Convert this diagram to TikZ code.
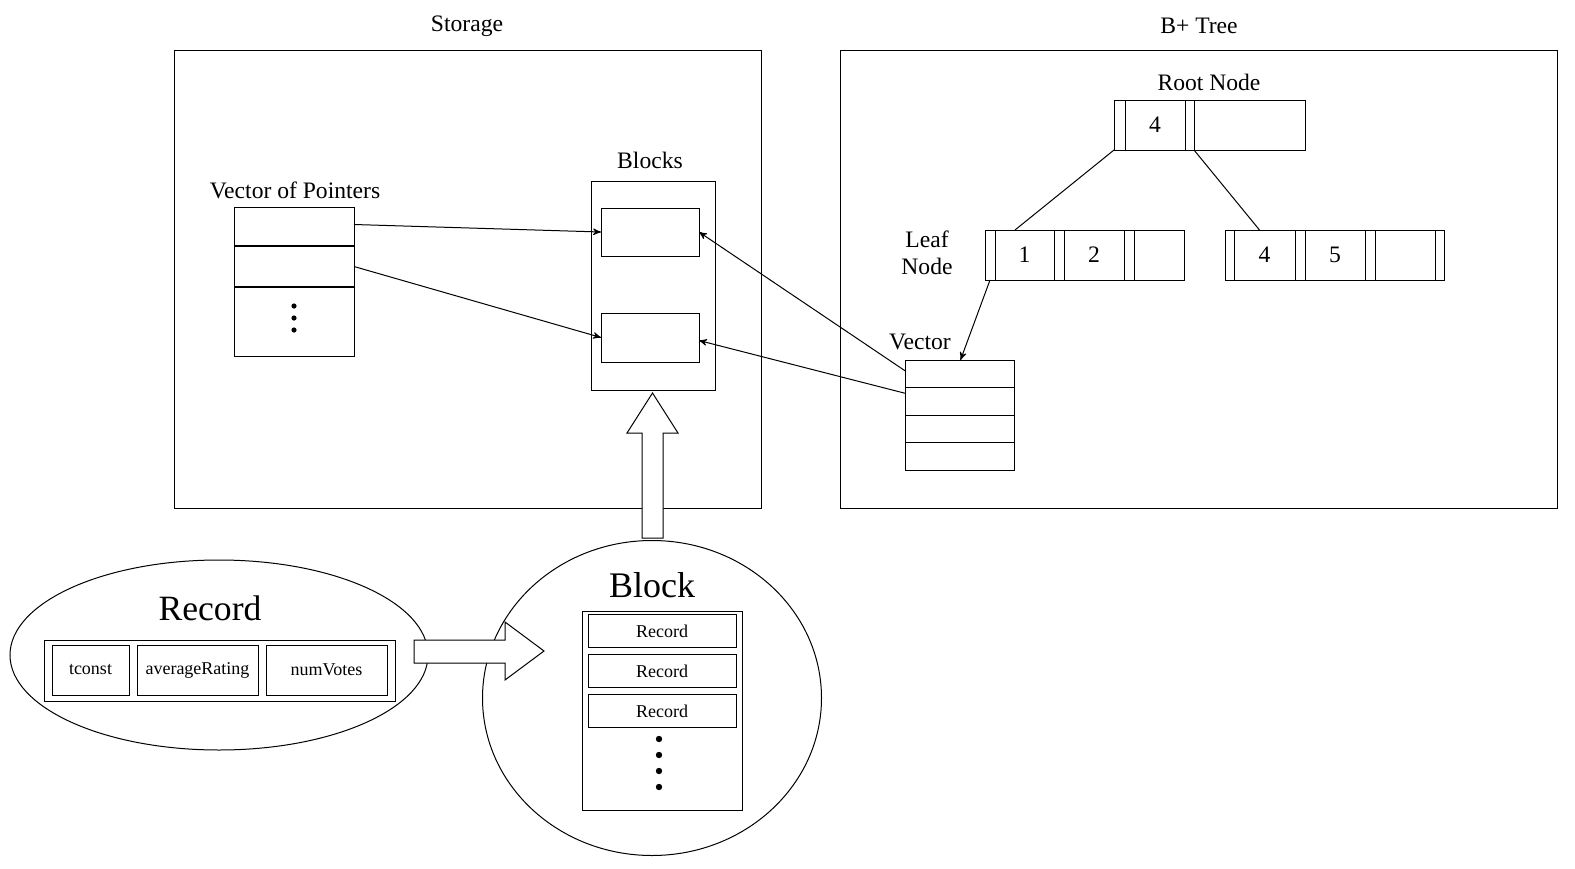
\documentclass[tikz,border=0pt]{standalone}
\usepackage{fontspec}
\setmainfont{Liberation Serif}
\usepackage{tikz}
\usetikzlibrary{shapes}
\usetikzlibrary{arrows}
\usetikzlibrary{positioning}
\tikzset{
	frame/.style={draw,rectangle,inner sep=0pt,outer sep=0pt},
	cell/.style={frame,minimum height=25pt,font=\fontsize{11.8}{14}\selectfont},
	ptr cell/.style={cell,minimum width=5pt},
	key cell/.style={cell,minimum width=30pt},
	small cell/.style={frame,font=\fontsize{9}{11}\selectfont},
	lbl/.style={inner sep=0pt,font=\fontsize{11.8}{13.5}\selectfont},
	big lbl/.style={inner sep=0pt,font=\fontsize{17.8}{20}\selectfont},
	block arrow/.style={draw,fill=white,line join=miter}
}

\begin{document}
\begin{tikzpicture}[x=0.5pt,y=-0.5pt,line width=0.5pt,>=stealth']
\useasboundingbox (0,0) rectangle (1575,868);

% Storage
\node[frame,minimum width=293.5pt,minimum height=229pt] (storage) at (467.5,279) {};
\node[lbl] (storagetitle) at (467,26) {Storage};

\node[lbl] (voptitle) at (295,190) {Vector of Pointers};
\node[frame,minimum width=60pt,minimum height=19.5pt] (p1) at (294,226.5) {};
\node[frame,minimum width=60pt,minimum height=20.5pt,below=0pt of p1] (p2) {};
\node[frame,minimum width=60pt,minimum height=34.5pt,below=0pt of p2] (p3) {};
\draw[line width=1.1pt] (p1.south west) -- (p1.south east);
\draw[line width=1.1pt] (p2.south west) -- (p2.south east);
\foreach \y in {306,318,330}
	\fill (294,\y) circle (1.3pt);

\node[lbl] (blockstitle) at (650,160) {Blocks};
\node[frame,minimum width=62pt,minimum height=104.5pt] (blocks) at (653,285.5) {};
\node[frame,minimum width=49pt,minimum height=24pt] (b1) at (650,232) {};
\node[frame,minimum width=49pt,minimum height=24.5pt] (b2) at (650,337.5) {};

\draw[->] ([yshift=1pt]p1.east) -- (b1.west);
\draw[->] (p2.east) -- (b2.west);

% B+ Tree
\node[frame,minimum width=358.5pt,minimum height=229pt] (tree) at (1198.5,279) {};
\node[lbl] (treetitle) at (1199,26) {B+ Tree};

\node[lbl] (roottitle) at (1209,82) {Root Node};
\node[ptr cell,minimum width=5.5pt] (r0) at (1119.5,125) {};
\node[key cell,right=0pt of r0] (r1) {4};
\node[ptr cell,minimum width=4.5pt,right=0pt of r1] (r2) {};
\node[cell,minimum width=55.5pt,right=0pt of r2] (r3) {};

\node[lbl,align=center] (leaftitle) at (927,253) {Leaf\\Node};
\node[ptr cell] (l0) at (990,255) {};
\node[key cell,minimum width=29.5pt,right=0pt of l0] (l1) {1};
\node[ptr cell,right=0pt of l1] (l2) {};
\node[key cell,right=0pt of l2] (l3) {2};
\node[ptr cell,right=0pt of l3] (l4) {};
\node[cell,minimum width=25pt,right=0pt of l4] (l5) {};

\node[ptr cell,minimum width=4.5pt] (m0) at (1229.5,255) {};
\node[key cell,minimum width=30.5pt,right=0pt of m0] (m1) {4};
\node[ptr cell,right=0pt of m1] (m2) {};
\node[key cell,right=0pt of m2] (m3) {5};
\node[ptr cell,right=0pt of m3] (m4) {};
\node[key cell,right=0pt of m4] (m5) {};
\node[ptr cell,minimum width=4.5pt,right=0pt of m5] (m6) {};

\draw (r0.south west) -- ([xshift=10pt]l1.north west);
\draw (r3.south west) -- ([xshift=-2.5pt]m1.north);

\node[lbl] (vectitle) at (920,342) {Vector};
\node[frame,minimum width=54.5pt,minimum height=13.75pt] (v1) at (959.5,373.75) {};
\node[frame,minimum width=54.5pt,minimum height=13.75pt,below=0pt of v1] (v2) {};
\node[frame,minimum width=54.5pt,minimum height=13.75pt,below=0pt of v2] (v3) {};
\node[frame,minimum width=54.5pt,minimum height=13.75pt,below=0pt of v3] (v4) {};

\draw[->] (l0.south) -- ([xshift=0.5pt]v1.north);
\draw[->] ([yshift=1.5pt]v1.west) -- (b1.east);
\draw[->] ([yshift=4pt]v2.west) -- ([yshift=-1.5pt]b2.east);

% Record
\node[draw,ellipse,inner sep=0pt,minimum width=209pt,minimum height=95pt] (recordshape) at (219,655) {};
\node[big lbl] (recordtitle) at (210,608) {Record};
\node[frame,minimum width=175.5pt,minimum height=30.5pt] (fields) at (219.5,670.5) {};
\node[small cell,minimum width=38.5pt,minimum height=25pt] (tconst) at (90.5,670) {tconst};
\node[small cell,minimum width=60.5pt,minimum height=25pt] (rating) at (197.5,670) {averageRating};
\node[small cell,minimum width=60.5pt,minimum height=25pt] (votes) at (326.5,670) {numVotes};

% Block
\node[draw,ellipse,inner sep=0pt,minimum width=169.5pt,minimum height=157.5pt] (blockshape) at (652,698) {};
\node[big lbl,font=\fontsize{18}{20}\selectfont] (blocktitle) at (652,585) {Block};
\node[frame,minimum width=80pt,minimum height=99.5pt] (recordlist) at (662,711) {};
\foreach \i/\y in {1/631,2/671,3/711}
	\node[small cell,minimum width=74pt,minimum height=16.5pt] (rec\i) at (662,\y) {Record};
\foreach \y in {739,755,771,787}
	\fill (659,\y) circle (1.6pt);

% block arrows
\draw[block arrow] (414,640) -- (505,640) -- (505,622) -- (544,651) -- (505,680) -- (505,663) -- (414,663) -- cycle;
\draw[block arrow] (642,538) -- (642,433) -- (627,433) -- (652.5,393) -- (678,433) -- (663,433) -- (663,538) -- cycle;
\end{tikzpicture}
\end{document}
